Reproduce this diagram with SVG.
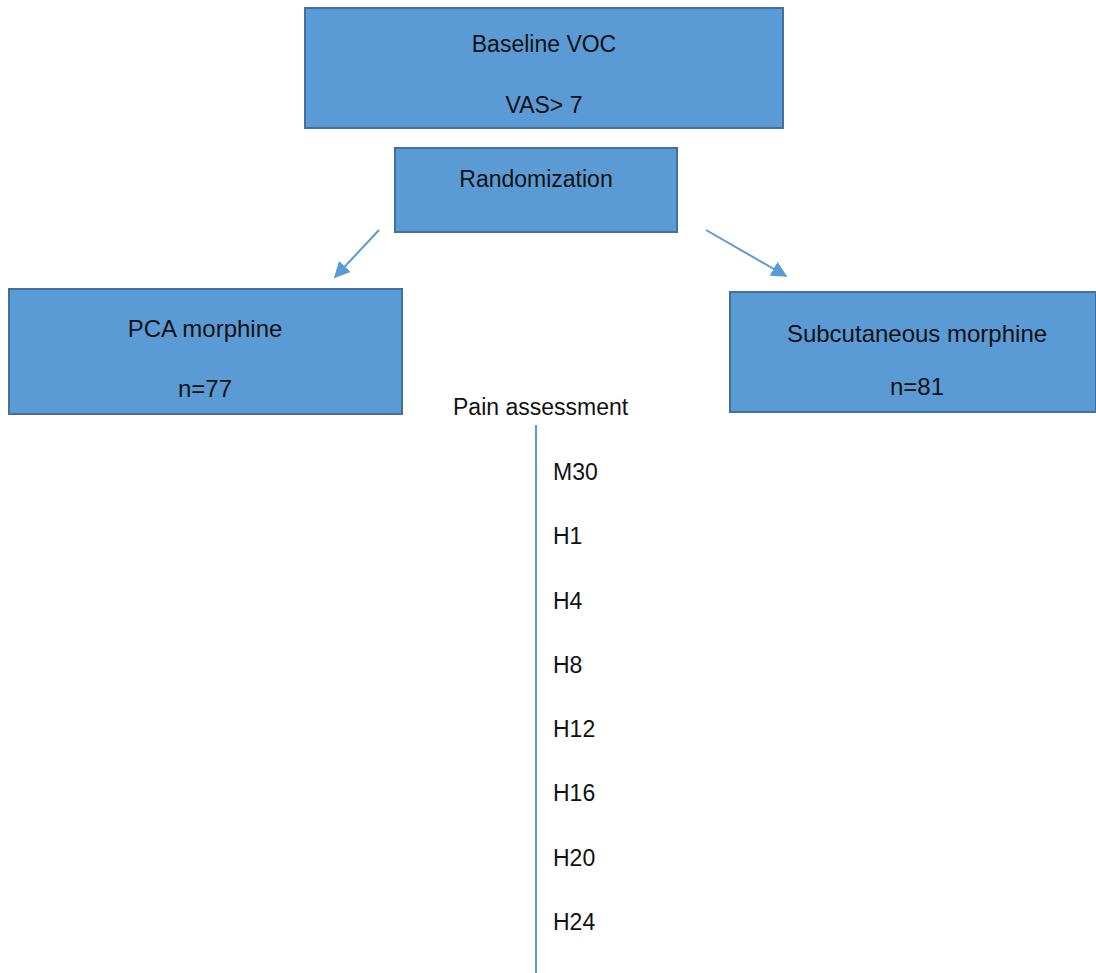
<svg xmlns="http://www.w3.org/2000/svg" width="1096" height="973" viewBox="0 0 1096 973">
<style>
.box{fill:#5B9BD5;stroke:#41719C;stroke-width:2}
.t{font-family:"Liberation Sans",Arial,sans-serif;font-size:23px;fill:#111;text-anchor:middle}
.l{font-family:"Liberation Sans",Arial,sans-serif;font-size:23px;fill:#111}
.c{stroke:#5B9BD5;stroke-width:2;fill:none}
</style>
<defs>
<marker id="ah" viewBox="0 0 10 10" refX="9" refY="5" markerWidth="8" markerHeight="8" markerUnits="strokeWidth" orient="auto">
<path d="M0,0 L10,5 L0,10 z" fill="#5B9BD5"/>
</marker>
</defs>
<rect width="1096" height="973" fill="#fff"/>
<g id="baseline">
<rect class="box" x="305" y="8" width="478" height="120"/>
<text class="t" x="544" y="52">Baseline VOC</text>
<text class="t" x="544" y="113">VAS&gt; 7</text>
</g>
<g id="randomization">
<rect class="box" x="395" y="148" width="282" height="84"/>
<text class="t" x="536" y="187">Randomization</text>
</g>
<g id="pca">
<rect class="box" x="9" y="289" width="393" height="125"/>
<text class="t" x="205" y="337" style="font-size:24px">PCA morphine</text>
<text class="t" x="205" y="397" style="font-size:24px">n=77</text>
</g>
<g id="subcutaneous">
<rect class="box" x="730" y="292" width="366" height="120"/>
<text class="t" x="917" y="342" style="font-size:24px">Subcutaneous morphine</text>
<text class="t" x="917" y="395" style="font-size:24px">n=81</text>
</g>
<g id="pain">
<text class="l" x="453" y="415">Pain assessment</text>
<text class="l" x="553" y="480">M30</text>
<text class="l" x="553" y="544">H1</text>
<text class="l" x="553" y="609">H4</text>
<text class="l" x="553" y="673">H8</text>
<text class="l" x="553" y="737">H12</text>
<text class="l" x="553" y="801">H16</text>
<text class="l" x="553" y="866">H20</text>
<text class="l" x="553" y="930">H24</text>
</g>
<g id="connectors">
<line class="c" x1="379" y1="230" x2="335" y2="277" marker-end="url(#ah)"/>
<line class="c" x1="706" y1="230" x2="786" y2="276" marker-end="url(#ah)"/>
<line class="c" x1="536" y1="425" x2="536" y2="973"/>
</g>
</svg>
